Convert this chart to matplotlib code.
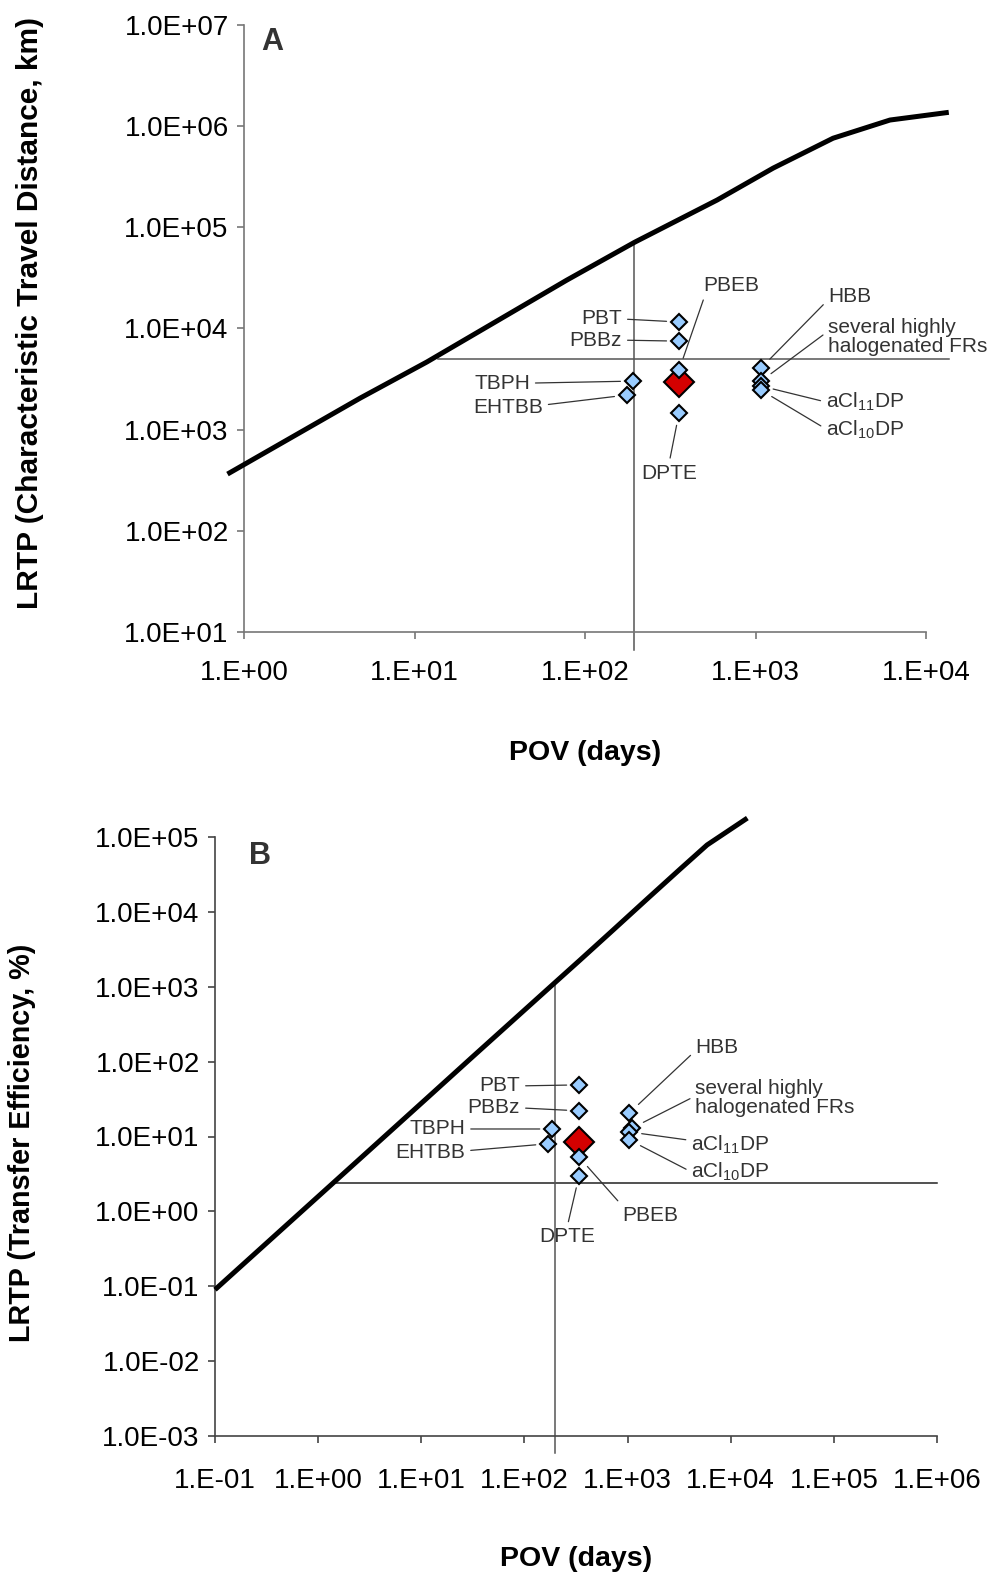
import matplotlib
matplotlib.use("Agg")
import matplotlib.pyplot as plt
from matplotlib.ticker import NullLocator

plt.rcParams["font.family"] = ["Liberation Sans", "DejaVu Sans"]
plt.rcParams["mathtext.fontset"] = "custom"
plt.rcParams["mathtext.rm"] = "Liberation Sans"
plt.rcParams["mathtext.it"] = "Liberation Sans"

# ---------------------------------------------------------------------------
# values
# ---------------------------------------------------------------------------
names = ["PBT", "PBBz", "PBEB", "DPTE", "TBPH", "EHTBB", "HBB",
         "several highly\nhalogenated FRs", r"aCl$_{11}$DP", r"aCl$_{10}$DP"]

# panel A: characteristic travel distance (km) vs POV (days)
curve_pov_a = [0.8, 4.8, 11.8, 78, 196, 595, 1270, 2850, 6150, 13600]
curve_ctd_a = [364, 2050, 4660, 30000, 71400, 1.86e5, 3.85e5, 7.6e5, 1.15e6, 1.37e6]
pov_a = [356, 356, 356, 356, 191, 176, 1077, 1077, 1077, 1077]
ctd_a = [11600, 7500, 3880, 1460, 3020, 2200, 4060, 3020, 2700, 2460]
ref_pov_a, ref_ctd_a = 356, 2950
hline_a = (5000, 13.7, 13600)      # LRTP, POV from, POV to
vline_a = (194, 6.6, 7.0e4)        # POV, LRTP from, LRTP to

# panel B: transfer efficiency (%) vs POV (days)
curve_pov_b = [0.1, 1.4, 11.4, 31, 194, 347, 725, 1550, 3240, 5900, 14500]
curve_te_b = [0.09, 2.4, 32.7, 114, 1110, 2280, 5730, 14900, 37400, 78300, 1.79e5]
pov_b = [339, 339, 339, 339, 186, 170, 1040, 1110, 1040, 1040]
te_b = [48.9, 22, 5.3, 3.0, 12.6, 8.0, 20.6, 13.0, 11.5, 9.0]
ref_pov_b, ref_te_b = 339, 8.5
hline_b = (2.4, 1.46, 1e6)
vline_b = (196, 6e-4, 1110)

# label layout: (dx, dy) in pixels, ha, relpos of leader on text box
layout_a = [(-57, 3, "right", (1, 0.5)), (-57, 1, "right", (1, 0.5)),
            (24, 85, "left", (0.05, 0.1)), (-10, -60, "center", (0.5, 1)),
            (-103, -2, "right", (1, 0.5)), (-84, -12, "right", (1, 0.6)),
            (67, 72, "left", (0, 0.3)), (67, 44, "left", (0, 0.65)),
            (65, -16, "left", (0, 0.5)), (65, -40, "left", (0, 0.55))]
layout_b = [(-59, -1, "right", (1, 0.5)), (-59, 3, "right", (1, 0.5)),
            (71, -58, "center", (0, 1)), (-12, -61, "center", (0.5, 1)),
            (-87, 0, "right", (1, 0.5)), (-83, -9, "right", (1, 0.6)),
            (66, 65, "left", (0, 0.35)), (63, 30, "left", (0, 0.55)),
            (62, -13, "left", (0, 0.7)), (62, -32, "left", (0, 0.5))]

TXT = "#333333"


def style_axes(ax, xexp, yexp, xpad, spine):
    ax.set_xscale("log")
    ax.set_yscale("log")
    ax.set_xlim(10.0 ** xexp[0], 10.0 ** xexp[-1])
    ax.set_ylim(10.0 ** yexp[0], 10.0 ** yexp[-1])
    ax.set_xticks([10.0 ** e for e in xexp])
    ax.set_xticklabels([f"1.E{e:+03d}" for e in xexp])
    ax.set_yticks([10.0 ** e for e in yexp])
    ax.set_yticklabels([f"1.0E{e:+03d}" for e in yexp])
    ax.xaxis.set_minor_locator(NullLocator())
    ax.yaxis.set_minor_locator(NullLocator())
    for s in ["top", "right"]:
        ax.spines[s].set_visible(False)
    for s in ["left", "bottom"]:
        ax.spines[s].set_color(spine)
        ax.spines[s].set_linewidth(1.2)
    ax.tick_params(axis="both", direction="out", length=5, width=1.2,
                   color=spine, labelsize=20, labelcolor="black")
    ax.tick_params(axis="x", pad=xpad)
    ax.tick_params(axis="y", pad=6)


def draw_panel(ax, cx, cy, px, py, rx, ry, hline, vline, layout, hcol):
    ax.plot(cx, cy, color="black", lw=3.6, clip_on=False, zorder=3,
            solid_capstyle="butt", solid_joinstyle="round")
    ax.plot([hline[1], hline[2]], [hline[0], hline[0]], color=hcol,
            lw=1.1, clip_on=False, zorder=2)
    ax.plot([vline[0], vline[0]], [vline[1], vline[2]], color="#555555",
            lw=1.1, clip_on=False, zorder=2)
    ax.plot([rx], [ry], marker="D", ms=15.5, mfc="#D40000", mec="black",
            mew=1.5, ls="none", zorder=4, clip_on=False)
    ax.plot(px, py, marker="D", ms=8, mfc="#99CCFF", mec="black", mew=1.5,
            ls="none", zorder=5, clip_on=False)
    for name, x, y, (dx, dy, ha, rel) in zip(names, px, py, layout):
        ax.annotate(name, xy=(x, y), xytext=(dx, dy), textcoords="offset pixels",
                    ha=ha, va="center", fontsize=15, color=TXT, linespacing=1.05,
                    arrowprops=dict(arrowstyle="-", color=TXT, lw=0.9,
                                    shrinkA=2, shrinkB=9, relpos=rel),
                    zorder=6, annotation_clip=False)


fig = plt.figure(figsize=(9.92, 15.75), dpi=100)
W, H = 992.0, 1575.0

ax_a = fig.add_axes([244 / W, 1 - 632 / H, (926 - 244) / W, (632 - 25) / H])
style_axes(ax_a, list(range(0, 5)), list(range(1, 8)), xpad=15, spine="#777777")
draw_panel(ax_a, curve_pov_a, curve_ctd_a, pov_a, ctd_a, ref_pov_a, ref_ctd_a,
           hline_a, vline_a, layout_a, "#555555")

ax_b = fig.add_axes([215 / W, 1 - 1436 / H, (937 - 215) / W, (1436 - 837) / H])
style_axes(ax_b, list(range(-1, 7)), list(range(-3, 6)), xpad=18, spine="#444444")
draw_panel(ax_b, curve_pov_b, curve_te_b, pov_b, te_b, ref_pov_b, ref_te_b,
           hline_b, vline_b, layout_b, "#222222")

fig.text(272 / W, 1 - 42 / H, "A", fontsize=22, fontweight="bold", color=TXT,
         ha="center", va="center")
fig.text(260 / W, 1 - 856 / H, "B", fontsize=22, fontweight="bold", color=TXT,
         ha="center", va="center")

fig.text(585 / W, 1 - 753 / H, "POV (days)", fontsize=20.5, fontweight="bold",
         ha="center", va="center")
fig.text(576 / W, 1 - 1559 / H, "POV (days)", fontsize=20.5, fontweight="bold",
         ha="center", va="center")
fig.text(30 / W, 1 - 313 / H, "LRTP (Characteristic Travel Distance, km)",
         fontsize=21.5, fontweight="bold", rotation=90, ha="center", va="center")
fig.text(22 / W, 1 - 1143 / H, "LRTP (Transfer Efficiency, %)",
         fontsize=20.7, fontweight="bold", rotation=90, ha="center", va="center")

fig.savefig("out.png", dpi=100)
